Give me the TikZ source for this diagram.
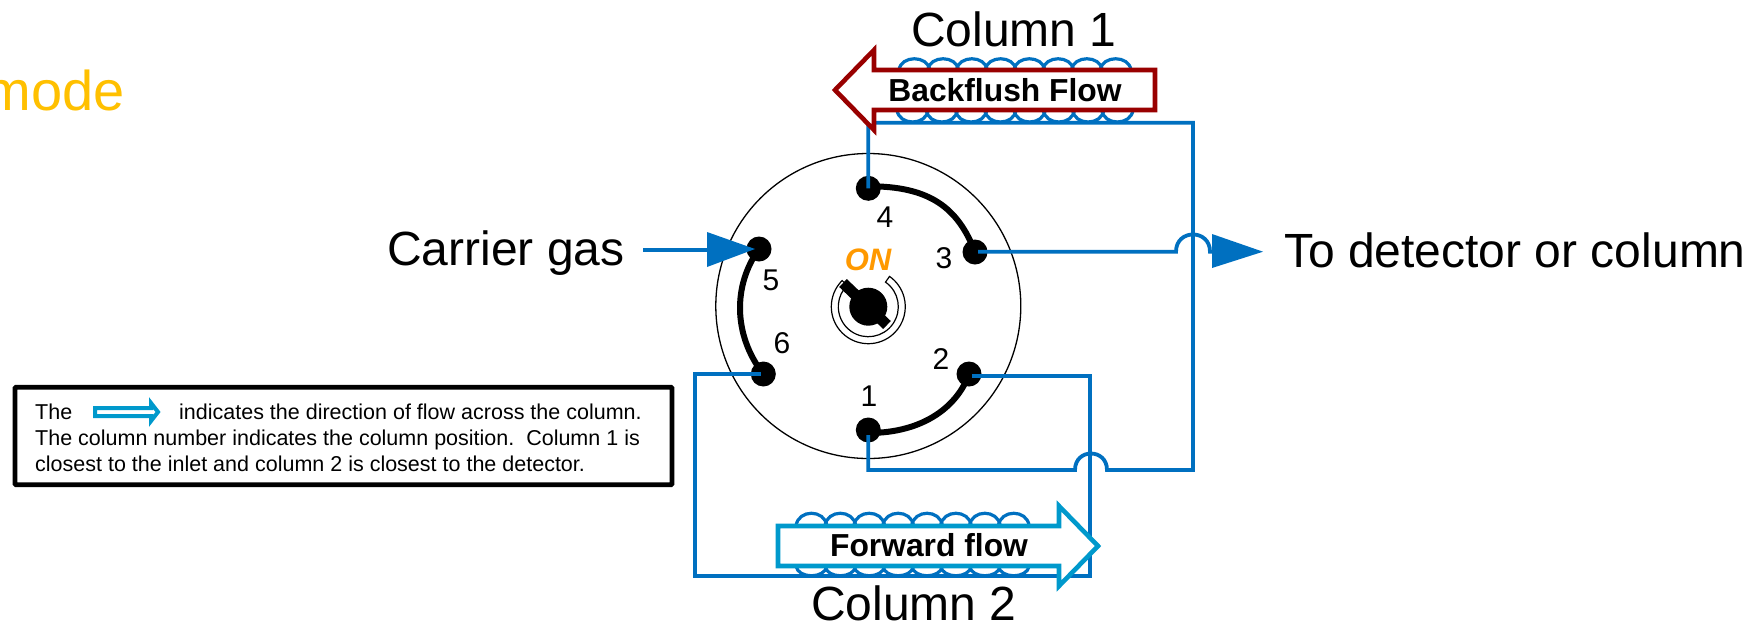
\documentclass[tikz,border=0pt]{standalone}
\usepackage{fontspec}
\setmainfont{Liberation Sans}
\usetikzlibrary{calc}
\definecolor{pipe}{HTML}{0070C0}
\definecolor{backred}{HTML}{990000}
\definecolor{fwdblue}{HTML}{0099CC}
\definecolor{amber}{HTML}{FFC000}
\definecolor{onorange}{HTML}{FF9900}
\newcommand{\pxfont}[1]{\fontsize{#1}{#1}\selectfont}
\tikzset{
  pipeline/.style={draw=pipe,line width=3.8pt,line join=miter},
  coil/.style={draw=pipe,line width=3.2pt},
  flowarrow/.style={line width=4.6pt,fill=white,miter limit=10},
  port/.style={circle,fill=black,inner sep=0pt,minimum size=25pt},
  link/.style={draw=black,line width=6pt},
  label/.style={anchor=base,inner sep=0pt,font=\pxfont{48}},
  portnum/.style={inner sep=0pt,font=\pxfont{30}},
  flowtext/.style={anchor=base,inner sep=0pt,font=\pxfont{31.8}\bfseries},
  notetext/.style={anchor=base west,inner sep=0pt,font=\pxfont{21.5}},
}
\newcommand{\coilrow}[6]{% x0, base y, width, apex offset ctrl, count, overlap
  \foreach \i in {1,...,#5}{
    \draw[coil] ({#1+(\i-1)*#3-#6},#2) .. controls ({#1+(\i-1)*#3+1},{#2+#4}) and ({#1+\i*#3-1},{#2+#4}) .. ({#1+\i*#3+#6},#2);
  }
}
\begin{document}
\begin{tikzpicture}[x=1pt,y=-1pt]
\useasboundingbox (0,0) rectangle (1749,625);
\fill[white] (0,0) rectangle (1749,625);
% valve body
\node[circle,draw=black,line width=1.3pt,fill=white,inner sep=0pt,minimum size=305pt] (body) at (868.3,306) {};
% knob
\coordinate (hub) at (868.3,306.7);
\draw[black,line width=1.2pt,fill=white] ($(hub)+(135:37pt)$) arc[start angle=135,end angle=415,radius=37pt]
  -- ($(hub)+(55:30pt)$) arc[start angle=55,end angle=-225,radius=30pt] -- cycle;
\node[circle,fill=black,inner sep=0pt,minimum size=38pt] (knob) at (hub) {};
\coordinate (ptrA) at (843,283);
\coordinate (ptrB) at (887,325);
\draw[black,line width=11pt] (ptrA) -- (ptrB);
\node[inner sep=0pt,font=\pxfont{31}\bfseries\itshape,text=onorange] (on) at (868,260) {ON};
% ports
\node[port] (p1) at (868.3,430) {};
\node[port] (p2) at (969,374) {};
\node[port] (p3) at (975,252) {};
\node[port] (p4) at (868.3,188.3) {};
\node[port] (p5) at (759,249) {};
\node[port] (p6) at (763.3,374) {};
\draw[link] (p4.center) -- ++(0,-2) .. controls (930,186) and (958,208) .. (p3.center);
\draw[link] (p5.center) .. controls (733,285) and (733,335) .. (p6.center);
\draw[link] (p1.center) -- ++(0,3) .. controls (925,433) and (958,405) .. (p2.center);
\node[portnum] (n1) at (869,396) {1};
\node[portnum] (n2) at (941,359) {2};
\node[portnum] (n3) at (944,258) {3};
\node[portnum] (n4) at (885,216.7) {4};
\node[portnum] (n5) at (771,280) {5};
\node[portnum] (n6) at (782,343) {6};
% coils
\coilrow{900}{70}{28.75}{-15}{8}{1}
\coilrow{898}{110}{29.25}{16}{8}{1}
\coilrow{797}{526}{28.9}{-17}{8}{1}
\coilrow{797}{566}{28.9}{13}{8}{1}
% plumbing
\coordinate (c1a) at (1193,122.7);
\coordinate (c1b) at (868.3,122.7);
\coordinate (c2a) at (1193,470);
\coordinate (c2b) at (868.3,470);
\coordinate (j1a) at (1107,470);
\coordinate (j1b) at (1075,470);
\coordinate (c3a) at (1090,376);
\coordinate (c3b) at (1090,576);
\coordinate (c3c) at (695,576);
\coordinate (c3d) at (695,374);
\coordinate (j2a) at (1176,251.7);
\coordinate (j2b) at (1210,251.7);
\coordinate (outgas) at (1212,251.7);
\coordinate (ingas) at (643,250);
\draw[pipeline] (p4.center) -- (c1b) -- (c1a) -- (c2a) -- (j1a)
  .. controls ($(j1a)+(0,-22)$) and ($(j1b)+(0,-22)$) .. (j1b) -- (c2b) -- ($(p1.center)+(0,5)$);
\draw[pipeline] ($(p2.center)+(3,2)$) -- (c3a) -- (c3b) -- (c3c) -- (c3d) -- ($(p6.center)+(-2,0)$);
\draw[pipeline] ($(p3.center)+(3,-0.3)$) -- (j2a)
  .. controls ($(j2a)+(0,-23)$) and ($(j2b)+(0,-23)$) .. (j2b) -- (outgas);
\draw[pipeline] (ingas) -- (712,250);
% gas arrowheads
\fill[pipe] (1212,234) -- (1263,251.7) -- (1212,268) -- cycle;
\fill[pipe] (707,232) -- (755,249) -- (707,267) -- cycle;
% flow arrows
\draw[flowarrow,draw=backred] (1155,70) -- (874,70) -- (874,50) -- (835,90) -- (874,130) -- (874,110) -- (1155,110) -- cycle;
\draw[flowarrow,draw=fwdblue] (778,526) -- (1059,526) -- (1059,506) -- (1098,546) -- (1059,586) -- (1059,566) -- (778,566) -- cycle;
\node[flowtext] (bf) at (1005,101.7) {Backflush Flow};
\node[flowtext] (ff) at (929,556.7) {Forward flow};
% labels
\node[label] (col1) at (1014,46.7) {Column 1};
\node[label] (col2) at (914,620) {Column 2};
\node[label,anchor=base west] (carrier) at (387,265) {Carrier gas};
\node[label,anchor=base west] (detector) at (1284,267) {To detector or column};
\node[label,anchor=base east,text=amber,font=\pxfont{56}] (mode) at (125,110) {mode};
% note
\node[draw=black,line width=4.7pt,rounded corners=1pt,fill=white,inner sep=0pt,minimum width=657pt,minimum height=97.5pt] (note) at (343.5,436) {};
\node[notetext] (t1) at (35,419) {The};
\node[notetext] (t2) at (179,419) {indicates the direction of flow across the column.};
\node[notetext] (t3) at (35,445) {The column number indicates the column position.\ \ Column 1 is};
\node[notetext] (t4) at (35,471) {closest to the inlet and column 2 is closest to the detector.};
\draw[fwdblue,line width=4pt,fill=white,miter limit=10] (95,408) -- (151,408) -- (151,403) -- (158,412) -- (151,421) -- (151,416) -- (95,416) -- cycle;
\end{tikzpicture}
\end{document}
